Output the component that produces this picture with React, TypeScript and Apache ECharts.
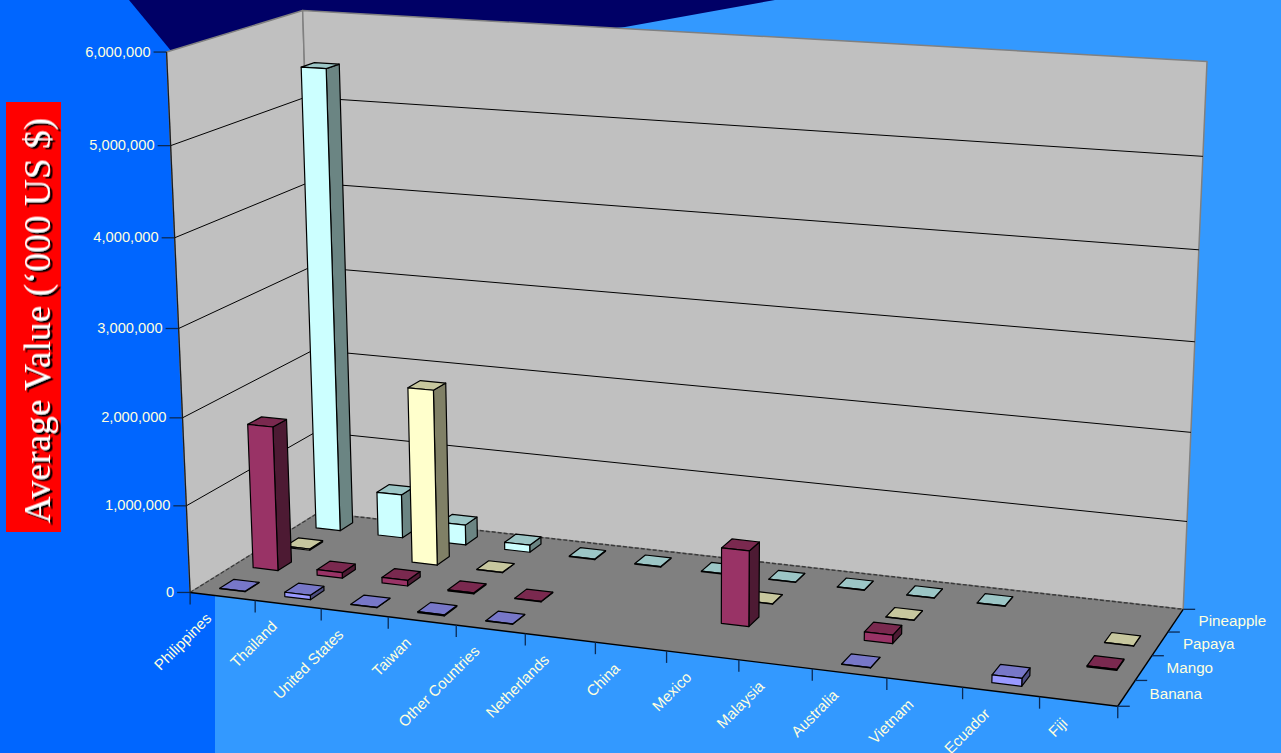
import React, { useEffect, useRef } from "react";
import * as echarts from "echarts";

// Importing countries, left to right along the floor of the 3D chart
const categories = [
  "Philippines", "Thailand", "United States", "Taiwan", "Other Countries", "Netherlands", "China",
  "Mexico", "Malaysia", "Australia", "Vietnam", "Ecuador", "Fiji",
];
// Fruit rows, front to back
const fruits = ["Banana", "Mango", "Papaya", "Pineapple"];
const valueTicks = [0, 1000000, 2000000, 3000000, 4000000, 5000000, 6000000];

const banana = [4000, 50000, 4000, 12000, 4000, null, null, null, null, 4000, null, 85000, null];
const mango = [1680000, 65000, 65000, 12000, 6000, null, null, 850000, null, 95000, null, null, 10000];
const papaya = [15000, null, 2050000, 4000, null, null, null, 4000, null, 4000, null, null, 4000];
const pineapple = [5450000, 520000, 240000, 85000, 8000, 8000, 8000, 4000, 4000, 4000, 4000, null, null];

const rows = [banana, mango, papaya, pineapple];

// front, top and side shades of each fruit's bars
const shades = [
  { front: "#9999FF", top: "#7777C8", side: "#4D4D80" },
  { front: "#993366", top: "#7A294F", side: "#4D1A33" },
  { front: "#FFFFCC", top: "#C7C79E", side: "#808066" },
  { front: "#CCFFFF", top: "#9CC6C6", side: "#6B8583" },
];

const MAX_VALUE = 6000000;
const NU = categories.length;
const NV = fruits.length;
const BAR_WIDTH = 0.39;
const BAR_DEPTH = 0.42;
const TEXT = "#FFFFDD";
const TICK = "#0A2A55";
const VALUE_FONT = '14.7px "Liberation Sans", Arial, sans-serif';
const NAME_FONT = '15.2px "Liberation Sans", Arial, sans-serif';

type Pt = [number, number];

// Camera calibration: (column, row, value in millions) -> pixel on the page
const calibration: [number, number, number, number, number][] = [
  [0, 0, 0, 190, 593],
  [13, 0, 0, 1117, 706],
  [13, 4, 0, 1183, 609],
  [0, 4, 0, 319, 512],
  [0, 0, 6, 167, 51],
  [0, 4, 6, 302, 11],
  [13, 4, 6, 1207, 62],
  [0, 0, 3, 179, 329],
  [13, 4, 5, 1203, 156],
  [7, 0, 0, 666, 651],
  [13, 2, 0, 1153, 656],
];

// Least-squares fit of the 3x4 projection matrix (last entry fixed to 1)
function fitCamera(): number[] {
  const A: number[][] = [];
  const b: number[] = [];
  for (const [cu, cv, cw, px, py] of calibration) {
    const u = cu / NU, v = cv / NV, w = cw / 6, x = px / 1000, y = py / 1000;
    A.push([u, v, w, 1, 0, 0, 0, 0, -x * u, -x * v, -x * w]);
    b.push(x);
    A.push([0, 0, 0, 0, u, v, w, 1, -y * u, -y * v, -y * w]);
    b.push(y);
  }
  const n = 11;
  const M: number[][] = [];
  for (let i = 0; i < n; i++) {
    const r: number[] = [];
    for (let j = 0; j < n; j++) {
      let s = 0;
      for (let k = 0; k < A.length; k++) s += A[k][i] * A[k][j];
      r.push(s);
    }
    let s = 0;
    for (let k = 0; k < A.length; k++) s += A[k][i] * b[k];
    r.push(s);
    M.push(r);
  }
  for (let i = 0; i < n; i++) {
    let p = i;
    for (let r = i + 1; r < n; r++) if (Math.abs(M[r][i]) > Math.abs(M[p][i])) p = r;
    [M[i], M[p]] = [M[p], M[i]];
    for (let r = 0; r < n; r++) {
      if (r === i) continue;
      const f = M[r][i] / M[i][i];
      for (let c = i; c <= n; c++) M[r][c] -= f * M[i][c];
    }
  }
  return M.map((r, i) => r[n] / r[i]);
}

const cam = fitCamera();

// u in columns, v in rows, w as a fraction of the value axis
function project(u: number, v: number, w: number): Pt {
  const a = u / NU, b = v / NV;
  const d = cam[8] * a + cam[9] * b + cam[10] * w + 1;
  return [
    (1000 * (cam[0] * a + cam[1] * b + cam[2] * w + cam[3])) / d,
    (1000 * (cam[4] * a + cam[5] * b + cam[6] * w + cam[7])) / d,
  ];
}

const formatValue = (n: number) => String(n).replace(/\B(?=(\d{3})+$)/g, ",");

function seg(a: Pt, b: Pt, stroke: string, lineWidth: number, lineDash?: number[]) {
  return {
    type: "line",
    shape: { x1: a[0], y1: a[1], x2: b[0], y2: b[1] },
    style: { stroke, lineWidth, lineDash, fill: "none" },
  };
}

function face(points: Pt[], fill: string, stroke = "#000", lineWidth = 1.2) {
  return { type: "polygon", shape: { points }, style: { fill, stroke, lineWidth, lineJoin: "round" } };
}

function label(text: string, x: number, y: number, align: string, font: string, rotation = 0) {
  return {
    type: "text",
    x,
    y,
    rotation,
    style: { text, x: 0, y: 0, fill: TEXT, font, align, verticalAlign: "middle" },
  };
}

// Walls, floor, grid lines, ticks and every axis label
function renderFrame() {
  const items: any[] = [];
  const wallEdge = "#808080";
  items.push(face([project(0, 0, 0), project(0, 4, 0), project(0, 4, 1), project(0, 0, 1)], "#C0C0C0", wallEdge, 1.5));
  items.push(face([project(0, 4, 0), project(13, 4, 0), project(13, 4, 1), project(0, 4, 1)], "#C0C0C0", wallEdge, 1.5));
  items.push(face([project(0, 0, 0), project(13, 0, 0), project(13, 4, 0), project(0, 4, 0)], "#808080", "none", 0));

  valueTicks.forEach((t) => {
    const w = t / MAX_VALUE;
    const p = project(0, 0, w);
    if (t > 0 && t < MAX_VALUE) {
      const corner = project(0, 4, w);
      items.push(seg(p, corner, "#000", 1));
      items.push(seg(corner, project(13, 4, w), "#000", 1));
    }
    items.push(seg([p[0] - 13, p[1]], p, TICK, 1.3));
    items.push(label(formatValue(t), p[0] - 16, p[1] - 0.5, "right", VALUE_FONT));
  });

  // wall and floor seams
  items.push(seg(project(0, 0, 0), project(0, 0, 1), "#1a1a1a", 1.2));
  items.push(seg(project(0, 4, 0), project(13, 4, 0), "#3a3a3a", 1.5, [4, 2]));
  items.push(seg(project(0, 0, 0), project(0, 4, 0), "#3a3a3a", 1.2, [4, 2]));
  items.push(seg(project(0, 0, 0), project(13, 0, 0), "#000", 1.4));
  items.push(seg(project(13, 0, 0), project(13, 4, 0), "#000", 1.4));

  for (let i = 0; i <= NU; i++) {
    const p = project(i, 0, 0);
    items.push(seg(p, [p[0], p[1] + 12], TICK, 1.3));
  }
  categories.forEach((name, i) => {
    const p = project(i + 0.5, 0, 0);
    items.push(label(name, p[0] - 14, p[1] + 19, "right", NAME_FONT, Math.PI / 4));
  });
  for (let j = 0; j <= NV; j++) {
    const p = project(13, j, 0);
    items.push(seg(p, [p[0] + 12, p[1]], TICK, 1.3));
  }
  fruits.forEach((name, j) => {
    const p = project(13, j + 0.5, 0);
    items.push(label(name, p[0] + 23, p[1], "left", NAME_FONT));
  });
  return { type: "group", children: items };
}

// One 3D bar; the column and height come back through the hidden cartesian axes
function renderBar(row: number) {
  return (params: any, api: any) => {
    const value = api.value(1);
    if (value == null || isNaN(value)) return null;
    const pos = api.coord([api.value(0), value]);
    const cs = params.coordSys;
    const uc = ((pos[0] - cs.x) / cs.width) * NU;
    const w = (cs.y + cs.height - pos[1]) / cs.height;
    const u0 = uc - BAR_WIDTH / 2, u1 = uc + BAR_WIDTH / 2;
    const v0 = row + 0.5 - BAR_DEPTH / 2, v1 = row + 0.5 + BAR_DEPTH / 2;
    const s = shades[row];
    return {
      type: "group",
      children: [
        face([project(u1, v0, 0), project(u1, v1, 0), project(u1, v1, w), project(u1, v0, w)], s.side),
        face([project(u0, v0, w), project(u1, v0, w), project(u1, v1, w), project(u0, v1, w)], s.top),
        face([project(u0, v0, 0), project(u1, v0, 0), project(u1, v0, w), project(u0, v0, w)], s.front),
      ],
    };
  };
}

export default function App() {
  const ref = useRef<HTMLDivElement>(null);

  useEffect(() => {
    document.body.style.margin = "0";
    document.body.style.overflow = "hidden";
    const chart = echarts.init(ref.current!, undefined, { renderer: "svg" });

    const barSeries = rows
      .map((values, row) => ({
        type: "custom",
        name: fruits[row],
        coordinateSystem: "cartesian2d",
        silent: true,
        z: 3 + (NV - row),
        encode: { x: 0, y: 1 },
        data: values.map((v, i) => [i, v]),
        renderItem: renderBar(row),
      }))
      .reverse();

    chart.setOption({
      animation: false,
      tooltip: { show: false },
      // The bars read their positions from these axes and then pass them through the camera
      grid: { left: 0, top: 0, width: 1000, height: 600 },
      xAxis: { type: "category", data: categories, show: false },
      yAxis: { type: "value", min: 0, max: MAX_VALUE, interval: 1000000, show: false },
      graphic: [
        { type: "rect", z: -10, shape: { x: 0, y: 0, width: 1281, height: 753 }, style: { fill: "#3399FF" } },
        { type: "rect", z: -9, shape: { x: 0, y: 0, width: 215, height: 753 }, style: { fill: "#0066FF" } },
        {
          type: "polygon",
          z: -8,
          shape: { points: [[129, 0], [172, 52], [310, 60], [625, 27], [775, 0]] },
          style: { fill: "#000066" },
        },
        { type: "rect", z: 1, shape: { x: 6, y: 102, width: 55, height: 430 }, style: { fill: "#FF0000" } },
        {
          type: "text",
          z: 2,
          x: 37,
          y: 320.5,
          rotation: Math.PI / 2,
          style: {
            text: "Average Value (\u2018000 US $)",
            x: 0,
            y: 0,
            fill: "#FFFFFF",
            font: '37.4px "Liberation Serif", "Times New Roman", serif',
            align: "center",
            verticalAlign: "middle",
            textShadowColor: "#000000",
            textShadowOffsetX: -2,
            textShadowOffsetY: 2.5,
            textShadowBlur: 0.2,
          },
        },
      ],
      series: [
        {
          type: "custom",
          name: "frame",
          coordinateSystem: "none",
          silent: true,
          z: 2,
          data: [[0]],
          renderItem: renderFrame,
        },
        ...barSeries,
      ],
    });
    return () => chart.dispose();
  }, []);

  return <div ref={ref} style={{ width: 1281, height: 753 }} />;
}
